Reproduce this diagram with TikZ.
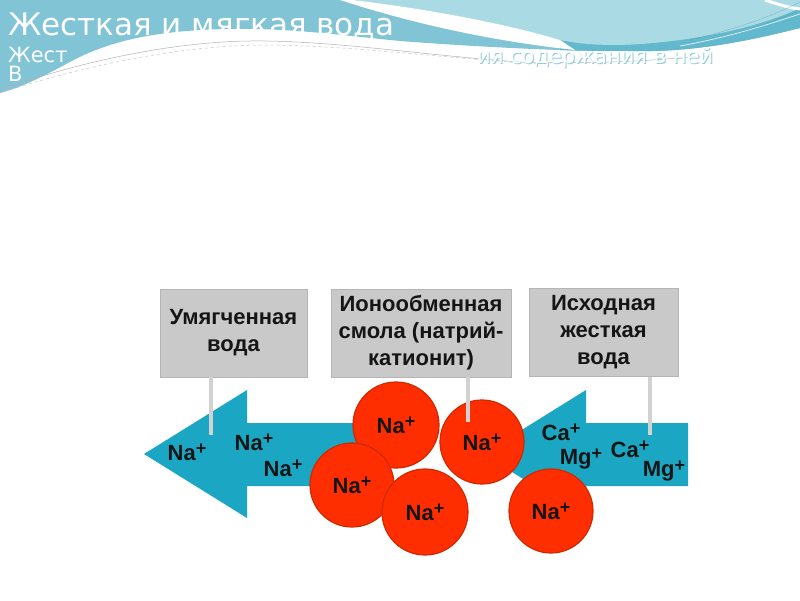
\documentclass[tikz,border=0pt]{standalone}
\usepackage{fontspec}
\setmainfont{Liberation Sans}
\newfontfamily\titlefont{DejaVu Sans}
\definecolor{hdrblue}{HTML}{80C4D5}
\definecolor{hdrlight}{HTML}{AADBE5}
\definecolor{hdrdark}{HTML}{62B8CD}
\definecolor{arrowblue}{HTML}{1BA7C3}
\definecolor{ballred}{HTML}{FF2E00}
\definecolor{balledge}{HTML}{D02800}
\definecolor{boxgray}{HTML}{C9C9C9}
\definecolor{boxedge}{HTML}{B5B5B5}
\definecolor{stemgray}{HTML}{D2D2D2}
\definecolor{txt}{HTML}{151515}
\newcommand\ionplus{\raisebox{0.5ex}{\fontsize{18}{18}\selectfont\bfseries +}}
\tikzset{
  labelbox/.style={fill=boxgray, draw=boxedge, line width=0.8pt, minimum height=88pt,
    align=center, inner sep=0pt, text=txt, font=\fontsize{22}{27}\selectfont\bfseries},
  ball/.style={circle, fill=ballred, draw=balledge, line width=1.2pt, inner sep=0pt,
    text=txt, font=\fontsize{22}{22}\selectfont\bfseries},
  ion/.style={inner sep=0pt, text=txt, font=\fontsize{22}{22}\selectfont\bfseries},
  stemline/.style={draw=stemgray, line width=4pt},
  flow/.style={fill=arrowblue},
  headtext/.style={inner sep=0pt, text=white, anchor=base west},
  fragshadow/.style={inner sep=0pt, text=hdrdark!70, anchor=base west}
}
\begin{document}
\begin{tikzpicture}[x=1pt,y=-1pt]
\useasboundingbox (0,0) rectangle (800,600);
\fill[white] (0,0) rectangle (800,600);
% header wave
\fill[hdrblue] (0,0) -- (800,0) -- (800,28)
  .. controls (760,38) and (700,52) .. (640,51)
  .. controls (610,51) and (585,51) .. (560,50)
  .. controls (500,48) and (440,44) .. (400,41)
  .. controls (340,35) and (290,28) .. (230,29)
  .. controls (160,30) and (110,40) .. (70,62)
  .. controls (40,78) and (20,88) .. (0,93) -- cycle;
\fill[hdrdark] (560,40) .. controls (600,48) and (640,45) .. (680,40)
  .. controls (730,33) and (770,22) .. (800,8) -- (800,28)
  .. controls (760,38) and (700,52) .. (640,51)
  .. controls (610,51) and (585,51) .. (560,50) -- cycle;
\fill[hdrlight] (353,0) .. controls (420,8) and (500,22) .. (560,40)
  .. controls (600,48) and (640,45) .. (680,40)
  .. controls (730,33) and (770,22) .. (800,8) -- (800,0) -- cycle;
\fill[white] (340,0) -- (353,0) .. controls (420,8) and (500,22) .. (560,40)
  -- (575,50) .. controls (500,42) and (420,26) .. (340,0) -- cycle;
\draw[white, line width=3pt] (765,0) .. controls (780,5) and (790,8) .. (800,9);
\draw[hdrdark!80!black, line width=0.4pt, opacity=0.5] (690,40) .. controls (740,28) and (775,15) .. (800,2);
\draw[hdrdark!80!black, line width=0.4pt, opacity=0.5] (700,42) .. controls (745,32) and (780,20) .. (800,10);
\draw[white, line width=0.8pt, opacity=0.8] (680,46) .. controls (735,36) and (775,22) .. (800,14);
\draw[gray!60, line width=0.5pt] (0,90) .. controls (60,68) and (160,42) .. (250,41)
  .. controls (330,40) and (420,55) .. (520,62) .. controls (580,64) and (640,62) .. (700,56);
\draw[gray!45, line width=0.5pt, dashed] (0,93) .. controls (70,70) and (170,46) .. (260,45)
  .. controls (350,45) and (440,58) .. (540,64);
% header texts
\node[headtext, font=\titlefont\fontsize{31}{31}\selectfont] (title) at (8,35) {Жесткая и мягкая вода};
\node[fragshadow, font=\titlefont\fontsize{21}{21}\selectfont] (frag3s) at (478,64) {ия содержания в ней};
\node[headtext, font=\titlefont\fontsize{21}{21}\selectfont] (frag1) at (8,62) {Жест};
\node[headtext, font=\titlefont\fontsize{21}{21}\selectfont] (frag2) at (8,81) {В};
\node[headtext, font=\titlefont\fontsize{21}{21}\selectfont] (frag3) at (477,63) {ия содержания в ней};
% diagram arrows
\fill[flow] (144,454) -- (247,390) -- (247,423) -- (380,423) -- (380,486) -- (247,486) -- (247,518) -- cycle;
\fill[flow] (483,454) -- (586,390) -- (586,423) -- (688,423) -- (688,486) -- (586,486) -- (586,518) -- cycle;
% boxes
\node[labelbox, minimum width=147pt] (soft) at (233.5,333) {Умягченная\\вода};
\node[labelbox, minimum width=180pt] (resin) at (421,333) {Ионообменная\\смола (натрий-\\катионит)};
\node[labelbox, minimum width=149pt] (hard) at (603.5,332.5) {Исходная\\жесткая\\вода};
% balls
\node[ball, minimum size=86pt] (b1) at (396,425) {Na\ionplus};
\node[ball, minimum size=84pt] (b2) at (352,485) {Na\ionplus};
\node[ball, minimum size=86pt] (b3) at (425,512) {Na\ionplus};
\node[ball, minimum size=84pt] (b4) at (482,442) {Na\ionplus};
\node[ball, minimum size=84pt] (b5) at (551,511) {Na\ionplus};
% stems
\coordinate (s1) at (211,435);
\coordinate (s2) at (468,422);
\coordinate (s3) at (650,435);
\draw[stemline] (soft.south -| s1) -- (s1);
\draw[stemline] (resin.south -| s2) -- (s2);
\draw[stemline] (hard.south -| s3) -- (s3);
% ions in arrows
\node[ion] (n1) at (187,452) {Na\ionplus};
\node[ion] (n2) at (254,442) {Na\ionplus};
\node[ion] (n3) at (283,468) {Na\ionplus};
\node[ion] (c1) at (561,432) {Ca\ionplus};
\node[ion] (m1) at (581,459) {Mg\ionplus};
\node[ion] (c2) at (630,449) {Ca\ionplus};
\node[ion] (m2) at (664,471) {Mg\ionplus};
\end{tikzpicture}
\end{document}
